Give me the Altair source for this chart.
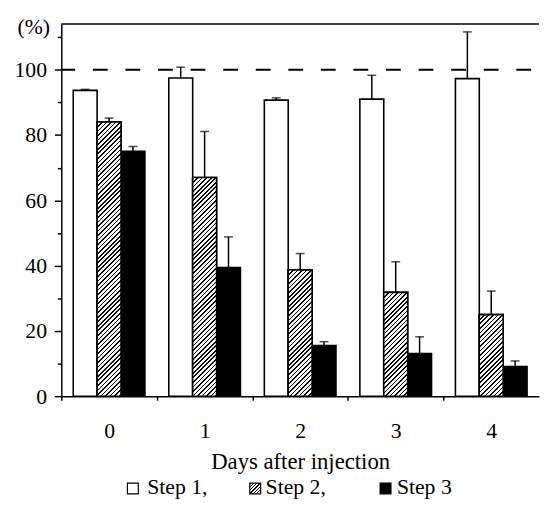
import altair as alt
import pandas as pd

# ---------------- data ----------------
days = ["0", "1", "2", "3", "4"]
steps = ["Step 1", "Step 2", "Step 3"]
step1_mean = [93.7, 97.5, 90.7, 91.0, 97.3]
step1_err = [0.3, 3.3, 0.7, 7.3, 14.3]
step2_mean = [84.0, 67.0, 38.7, 31.8, 25.0]
step2_err = [1.2, 14.1, 5.0, 9.4, 7.2]
step3_mean = [75.0, 39.4, 15.5, 13.1, 9.1]
step3_err = [1.5, 9.4, 1.2, 5.1, 1.7]
legend_labels = ["Step 1,", "Step 2,", "Step 3"]
y_ticks = list(range(0, 111, 10))
reference_level = [100]
x_title = "Days after injection"
y_unit = "(%)"

# ---------------- style / layout ----------------
W, H = 484, 377
YMAX = 114
PAD = {"left": 54, "top": 13, "right": 1, "bottom": 112}
FONT = "Liberation Serif"
INK = "black"
P_IN, P_OUT = 0.25, 0.125
STEP_PX = W / (len(days) - P_IN + 2 * P_OUT)
SUB_PX = STEP_PX * (1 - P_IN) / len(steps)

rows = []
for means, errs, s in [(step1_mean, step1_err, steps[0]),
                       (step2_mean, step2_err, steps[1]),
                       (step3_mean, step3_err, steps[2])]:
    for d, m, e in zip(days, means, errs):
        rows.append({"day": d, "step": s, "mean": m, "top": m + e})
df = pd.DataFrame(rows)


def hatch(w, h, period=4.6, line=1.7):
    """Diagonal '////' hatch as a striped linear gradient in bbox units."""
    total = w + h
    s = total / (w * w + h * h)
    stops = []
    c = 0.0
    while c < total:
        a = c / total
        b = min((c + line) / total, 1.0)
        stops += [{"offset": a, "color": "white"}, {"offset": a, "color": INK},
                  {"offset": b, "color": INK}, {"offset": b, "color": "white"}]
        c += period
    return {"gradient": "linear", "x1": 0, "y1": 0, "x2": w * s, "y2": h * s,
            "stops": stops}


x_enc = alt.X(
    "day:O",
    scale=alt.Scale(domain=days, paddingInner=P_IN, paddingOuter=P_OUT),
    axis=alt.Axis(title=x_title, labelAngle=0, tickSize=4,
                  tickOffset=-STEP_PX / 2, labelOffset=STEP_PX / 2,
                  labelPadding=21, titlePadding=9, titleFontSize=23),
)
xoff = alt.XOffset("step:N", scale=alt.Scale(domain=steps, paddingInner=0, paddingOuter=0))
y_scale = alt.Scale(domain=[0, YMAX], nice=False, zero=True)


def y_axis():
    return alt.Axis(
        title=None, values=y_ticks, grid=False, labelOverlap=False, labelFlush=False,
        labelBound=False,
        labelExpr=f"datum.value == 110 ? '{y_unit}' : (datum.value % 20 == 0 ? datum.label : '')",
        tickSize={"condition": {"test": "datum.value % 20 == 0", "value": 7}, "value": 4},
        labelOffset={"condition": {"test": "datum.value == 110", "value": -11}, "value": 0},
        labelPadding=8,
    )


def y_of(field):
    return alt.Y(field, scale=y_scale, axis=y_axis())


base = alt.Chart(df)

bars = base.mark_bar(stroke=INK, strokeWidth=1.6).encode(
    x=x_enc, xOffset=xoff, y=y_of("mean:Q"),
    fill=alt.Fill("step:N", scale=alt.Scale(domain=steps, range=["white", "white", INK]),
                  legend=None),
)

hatch_layers = []
for d, m in zip(days, step2_mean):
    h_px = m * H / YMAX
    hatch_layers.append(
        base.transform_filter(f"datum.day == '{d}' && datum.step == '{steps[1]}'")
        .mark_bar(fill=hatch(SUB_PX, h_px), stroke=INK, strokeWidth=1.6)
        .encode(x=x_enc, xOffset=xoff, y=y_of("mean:Q"))
    )

err_rule = base.mark_rule(color=INK, strokeWidth=1.5).encode(
    x=x_enc, xOffset=xoff, y=y_of("mean:Q"), y2="top:Q")
err_cap = base.mark_tick(color=INK, thickness=1.5, size=9).encode(
    x=x_enc, xOffset=xoff, y=y_of("top:Q"))

ref_df = pd.DataFrame({"ref": reference_level})
ref_line = alt.Chart(ref_df).mark_rule(color=INK, strokeWidth=2, strokeDash=[15, 18],
                                       strokeDashOffset=25).encode(y=y_of("ref:Q"))
one = pd.DataFrame({"k": [0]})
top_border = alt.Chart(one).mark_rule(color=INK, strokeWidth=1.5).encode(
    y=alt.value(0), x=alt.value(0), x2=alt.value(W))

# ---------------- legend (drawn below the axis) ----------------
leg_y0, leg_y1, leg_text_y = 465, 476, 476
leg_sq_x = [67, 191, 323]
leg_txt_x = [87, 207, 340]
leg_fills = ["white", hatch(11, 11, period=3.4, line=1.3), INK]
legend_layers = []
for lab, sx, tx, f in zip(legend_labels, leg_sq_x, leg_txt_x, leg_fills):
    ldf = pd.DataFrame({"label": [lab]})
    legend_layers.append(
        alt.Chart(ldf).mark_rect(fill=f, stroke=INK, strokeWidth=1.2).encode(
            x=alt.value(sx), x2=alt.value(sx + 11), y=alt.value(leg_y0), y2=alt.value(leg_y1))
    )
    legend_layers.append(
        alt.Chart(ldf).mark_text(align="left", baseline="alphabetic", font=FONT,
                                 fontSize=22, color=INK).encode(
            x=alt.value(tx), y=alt.value(leg_text_y), text="label:N")
    )

chart = alt.layer(
    bars, *hatch_layers, err_rule, err_cap, ref_line, top_border, *legend_layers
).properties(
    width=W, height=H,
    autosize=alt.AutoSizeParams(type="none"),
    padding=PAD,
).configure_view(stroke=None).configure_axis(
    labelFont=FONT, labelFontSize=22, labelColor=INK,
    titleFont=FONT, titleFontSize=23, titleColor=INK, titleFontWeight="normal",
    domainColor=INK, domainWidth=1.5, tickColor=INK, tickWidth=1.5,
)

chart.save("out.html", embed_options={"renderer": "svg", "actions": False})
